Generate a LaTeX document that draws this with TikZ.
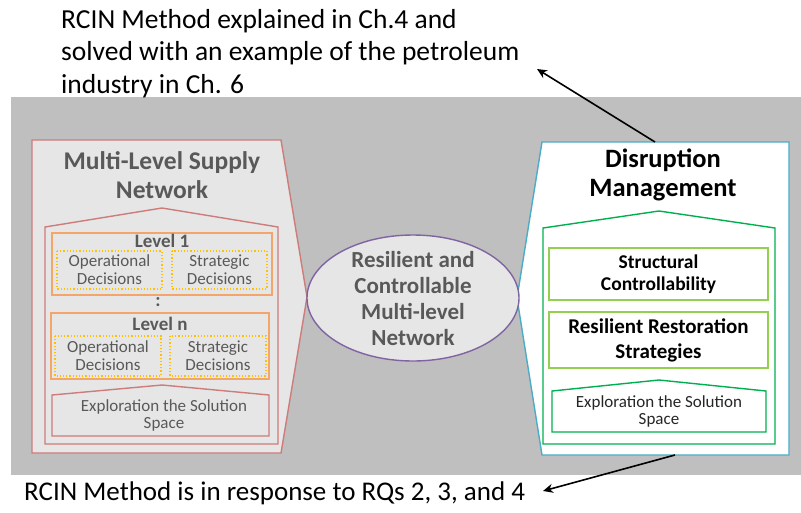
\documentclass[tikz,border=0pt]{standalone}
\usepackage{fontspec}
\setmainfont{Carlito}
\usetikzlibrary{arrows.meta}
\definecolor{band}{HTML}{BFBFBF}
\definecolor{paper}{HTML}{E6E6E6}
\definecolor{redline}{HTML}{CD7C7A}
\definecolor{orangeline}{HTML}{F4A66A}
\definecolor{goldline}{HTML}{FFC000}
\definecolor{blueline}{HTML}{4BACC6}
\definecolor{greenline}{HTML}{00B050}
\definecolor{limeline}{HTML}{92D050}
\definecolor{purpleline}{HTML}{8064A2}
\definecolor{greytext}{HTML}{595959}
\definecolor{darktext}{HTML}{262626}
\tikzset{
  redshape/.style={draw=redline, line width=1.4pt, line join=miter},
  levelbox/.style={draw=orangeline, line width=1.4pt},
  decbox/.style={draw=goldline, line width=1.2pt, dotted},
  blueshape/.style={draw=blueline, line width=1.4pt, fill=white},
  greenshape/.style={draw=greenline, line width=1.4pt},
  limebox/.style={draw=limeline, line width=1.4pt},
  fs/.style={font=\fontsize{#1}{#1}\selectfont},
  bfs/.style={font=\fontsize{#1}{#1}\selectfont\bfseries},
  lbl/.style={align=center, inner sep=0pt},
  note/.style={align=left, inner sep=0pt, anchor=north west, text=black},
  pointer/.style={-{Stealth[length=10pt,width=9pt]}, line width=1.6pt, black}
}
\begin{document}
\begin{tikzpicture}[x=1pt, y=-1pt]
\useasboundingbox (0,0) rectangle (801,512);
% grey band
\fill[band] (11,97) rectangle (801,475);

% ---------- left block: multi-level supply network ----------
\path[redshape, fill=paper] (32,140) -- (281,140) -- (307,297) -- (281,453) -- (32,453) -- cycle;
\path[redshape] (45,227) -- (162,208) -- (278,227) -- (278,444) -- (45,444) -- cycle;
\node[lbl, bfs=25.5, text=greytext] (msn) at (162,175) {Multi-Level Supply\\[3pt]Network};

\draw[levelbox] (52,233) rectangle (272,295);
\node[lbl, bfs=19, text=greytext] (lv1) at (162,241) {Level 1};
\draw[decbox] (57,251) rectangle (162,289);
\draw[decbox] (172,251) rectangle (267,289);
\node[lbl, fs=17, text=greytext] (op1) at (109.5,270) {Operational\\[1pt]Decisions};
\node[lbl, fs=17, text=greytext] (st1) at (219.5,270) {Strategic\\[1pt]Decisions};

\node[lbl, bfs=19, text=greytext] (dots) at (158,302) {:};

\draw[levelbox] (51,313) rectangle (269,379);
\node[lbl, bfs=19, text=greytext] (lvn) at (160,324) {Level n};
\draw[decbox] (55,336) rectangle (161,376);
\draw[decbox] (170,336) rectangle (266,376);
\node[lbl, fs=17, text=greytext] (opn) at (108,356) {Operational\\[1pt]Decisions};
\node[lbl, fs=17, text=greytext] (stn) at (218,356) {Strategic\\[1pt]Decisions};

\path[redshape] (52,395) -- (162,385) -- (269,395) -- (269,436) -- (52,436) -- cycle;
\node[lbl, fs=17, text=greytext] (exl) at (164,415) {Exploration the Solution\\[0pt]Space};

% ---------- right block: disruption management ----------
\path[blueshape] (542,142) -- (789,142) -- (789,455) -- (542,455) -- (517,298) -- cycle;
\coordinate (dmtop) at (655,142);
\coordinate (dmbot) at (675,455);
\node[lbl, bfs=26.5, text=black] (dm) at (663,175) {Disruption\\[3pt]Management};

\path[greenshape] (543,228) -- (659,211) -- (775,228) -- (775,444) -- (543,444) -- cycle;
\draw[limebox] (549,248) rectangle (768,300);
\node[lbl, bfs=19.5, text=black] (sc) at (658.5,274) {Structural\\[3pt]Controllability};
\draw[limebox] (549,312) rectangle (768,368);
\node[lbl, bfs=21, text=black] (rr) at (658.5,340) {Resilient Restoration\\[4pt]Strategies};
\path[greenshape] (552,391) -- (659,380) -- (766,391) -- (766,432) -- (552,432) -- cycle;
\node[lbl, fs=17, text=darktext] (exr) at (659,411) {Exploration the Solution\\[0pt]Space};

% ---------- centre ellipse ----------
\path[draw=purpleline, line width=1.4pt, fill=paper] (413,298) ellipse [x radius=106, y radius=63];
\node[lbl, bfs=23, text=greytext] (rc) at (413,299) {Resilient and\\[3pt]Controllable\\[3pt]Multi-level\\[3pt]Network};

% ---------- notes ----------
\node[note, fs=27.5] (topnote) at (61,9) {RCIN Method explained in Ch.4 and\\[5pt]solved with an example of the petroleum\\[5pt]industry in Ch. 6};
\node[note, fs=27] (botnote) at (24,482) {RCIN Method is in response to RQs 2, 3, and 4};
\coordinate (toptip) at (537,69);
\coordinate (bottip) at (543,491);

\draw[pointer] (dmtop) -- (toptip);
\draw[pointer] (dmbot) -- (bottip);
\end{tikzpicture}
\end{document}
